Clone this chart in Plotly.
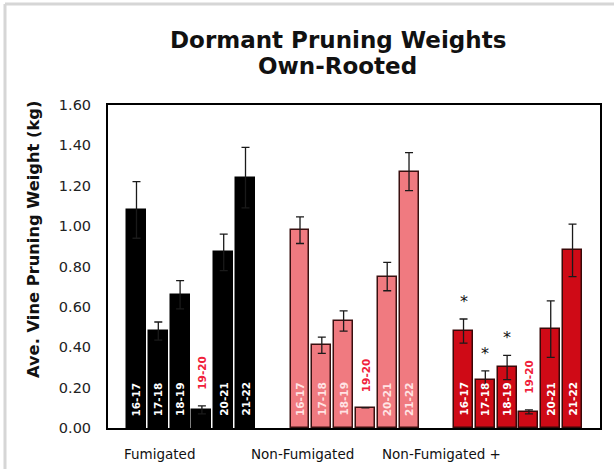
import plotly.graph_objects as go

# Seasons shown within each treatment group
seasons = ["16-17", "17-18", "18-19", "19-20", "20-21", "21-22"]
groups = ["Fumigated", "Non-Fumigated", "Non-Fumigated +"]

# Average vine pruning weight (kg) and error per season
fumigated = [1.08, 0.48, 0.66, 0.09, 0.87, 1.24]
fumigated_err = [0.14, 0.045, 0.07, 0.02, 0.09, 0.15]

non_fumigated = [0.98, 0.41, 0.53, 0.10, 0.75, 1.27]
non_fumigated_err = [0.066, 0.04, 0.05, 0.0, 0.07, 0.094]

non_fumigated_plus = [0.48, 0.24, 0.30, 0.08, 0.49, 0.88]
non_fumigated_plus_err = [0.06, 0.043, 0.06, 0.01, 0.14, 0.13]

# Seasons marked significant (*) in the Non-Fumigated + group
significant = ["16-17", "17-18", "18-19"]

y_ticks = [0.0, 0.2, 0.4, 0.6, 0.8, 1.0, 1.2, 1.4, 1.6]

FONT = "DejaVu Sans"
GROUP_STEP = 7.5
BAR_W = 0.87

styles = [
    dict(fill="#000000", line="#000000", label="#ffffff"),
    dict(fill="#f07a80", line="#3a1010", label="#ffe4e4"),
    dict(fill="#cf0a16", line="#3a0808", label="#ffffff"),
]
values = [fumigated, non_fumigated, non_fumigated_plus]
errors = [fumigated_err, non_fumigated_err, non_fumigated_plus_err]

fig = go.Figure()
annotations = []

for g, (name, vals, errs, st) in enumerate(zip(groups, values, errors, styles)):
    xs = [g * GROUP_STEP + i for i in range(len(seasons))]
    fig.add_trace(go.Bar(
        x=xs, y=vals, width=BAR_W, name=name,
        marker=dict(color=st["fill"], line=dict(color=st["line"], width=1.5)),
        error_y=dict(type="data", array=errs, visible=True,
                     color="#1a1a1a", thickness=1.3, width=4),
        showlegend=False,
    ))
    for x, s, v, e in zip(xs, seasons, vals, errs):
        if s == "19-20":
            # season label sits above the short bar, in red
            annotations.append(dict(
                x=x, y=v + e, xref="x", yref="y", text="<b>" + s + "</b>",
                textangle=-90, showarrow=False, yanchor="bottom", yshift=14,
                font=dict(family=FONT, size=10.5, color="#f0203a"),
            ))
        else:
            annotations.append(dict(
                x=x, y=0, xref="x", yref="y", text="<b>" + s + "</b>",
                textangle=-90, showarrow=False, yanchor="bottom", yshift=10,
                font=dict(family=FONT, size=10.5, color=st["label"]),
            ))
        if g == 2 and s in significant:
            annotations.append(dict(
                x=x, y=v + e, xref="x", yref="y", text="*",
                showarrow=False, yanchor="bottom", yshift=6,
                font=dict(family=FONT, size=16, color="#111111"),
            ))

# Group labels under the axis
group_label_x = [1.1, 7.6, 14.0]
for gx, name in zip(group_label_x, groups):
    annotations.append(dict(
        x=gx, y=0, xref="x", yref="paper", text=name, showarrow=False,
        yanchor="top", yshift=-16,
        font=dict(family=FONT, size=13.5, color="#111111"),
    ))

# Plot area geometry in pixels
L, T, W, H = 108, 105, 492, 323

# Two-line title and rotated y-axis title
annotations += [
    dict(text="<b>Dormant Pruning Weights</b>", x=0.467, y=1.0, xref="paper", yref="paper",
         xanchor="center", yanchor="middle", yshift=T - 40, showarrow=False,
         font=dict(family=FONT, size=23, color="#111111")),
    dict(text="<b>Own-Rooted</b>", x=0.467, y=1.0, xref="paper", yref="paper",
         xanchor="center", yanchor="middle", yshift=T - 66, showarrow=False,
         font=dict(family=FONT, size=23, color="#111111")),
    dict(text="<b>Ave. Vine Pruning Weight (kg)</b>", x=0, y=0.582, xref="paper", yref="paper",
         xanchor="center", yanchor="middle", xshift=-75, textangle=-90, showarrow=False,
         font=dict(family=FONT, size=16.3, color="#111111")),
]

# Light frame around the figure
def px_x(p):
    return (p - L) / W

def px_y(p):
    return (T + H - p) / H

shapes = [
    dict(type="line", xref="paper", yref="paper", x0=px_x(5), x1=px_x(5),
         y0=px_y(4), y1=px_y(469), line=dict(color="#d6d6d6", width=3)),
    dict(type="line", xref="paper", yref="paper", x0=px_x(5), x1=px_x(614),
         y0=px_y(4), y1=px_y(4), line=dict(color="#d6d6d6", width=3)),
]

fig.update_layout(
    width=614, height=469,
    margin=dict(l=L, r=614 - L - W, t=T, b=469 - T - H),
    paper_bgcolor="white", plot_bgcolor="white",
    bargap=0,
    annotations=annotations,
    shapes=shapes,
    xaxis=dict(range=[-1.307, 21.26], showticklabels=False, ticks="",
               showgrid=False, zeroline=False, showline=True, mirror=True,
               linecolor="black", linewidth=2),
    yaxis=dict(range=[0, 1.6], tickvals=y_ticks, tickformat=".2f",
               ticks="outside", ticklen=12, tickcolor="rgba(0,0,0,0)",
               tickfont=dict(family=FONT, size=14.5, color="#222222"),
               showgrid=False, zeroline=False, showline=True, mirror=True,
               linecolor="black", linewidth=2),
)

fig.write_html("out.html")
